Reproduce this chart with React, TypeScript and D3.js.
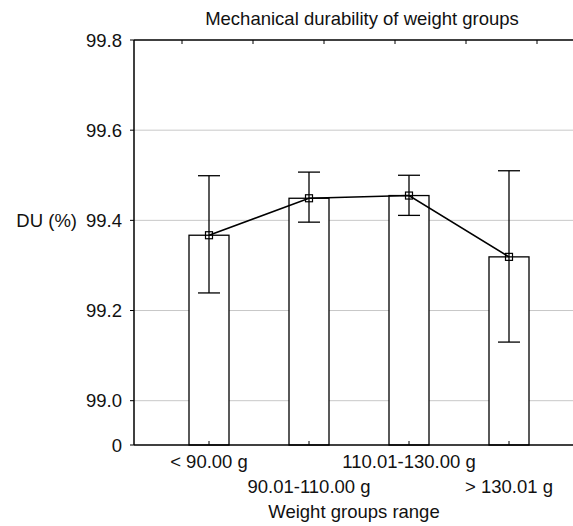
import React, { useEffect, useRef } from 'react'
import * as d3 from 'd3'

const categories = ['< 90.00 g', '90.01-110.00 g', '110.01-130.00 g', '> 130.01 g']
const means = [99.367, 99.449, 99.455, 99.319]
const errLow = [99.239, 99.396, 99.411, 99.13]
const errHigh = [99.499, 99.507, 99.5, 99.51]
const yTicks = [99.0, 99.2, 99.4, 99.6, 99.8]
const topTicks = [-0.27, 0.44, 1.15, 1.86, 2.57, 3.28]

const width = 573
const height = 526
const margin = { top: 40, left: 134, bottom: 445 }
const font = '"Liberation Sans", Arial, sans-serif'

export default function App() {
  const ref = useRef<SVGSVGElement>(null)

  useEffect(() => {
    const svg = d3.select(ref.current)
    svg.selectAll('*').remove()

    const x = d3.scaleLinear().domain([-0.75, 3.75]).range([margin.left, 584])
    const y = d3.scaleLinear().domain([99, 99.8]).range([400.7, margin.top])
    const base = margin.bottom
    const barW = (x(1) - x(0)) * 0.4

    // grid
    svg.append('g').selectAll('line')
      .data(yTicks.filter(d => d < 99.8))
      .join('line')
      .attr('x1', margin.left).attr('x2', width)
      .attr('y1', d => y(d)).attr('y2', d => y(d))
      .attr('stroke', '#c8c8c8').attr('stroke-width', 1)

    // bars
    svg.append('g').selectAll('rect')
      .data(means)
      .join('rect')
      .attr('x', (d, i) => x(i) - barW / 2)
      .attr('y', d => y(d))
      .attr('width', barW)
      .attr('height', d => base - y(d))
      .attr('fill', '#fff').attr('stroke', '#000').attr('stroke-width', 1.3)

    // whiskers
    const eb = svg.append('g').attr('stroke', '#000').attr('stroke-width', 1.3)
    means.forEach((m, i) => {
      const cx = x(i)
      eb.append('line').attr('x1', cx).attr('x2', cx).attr('y1', y(errHigh[i])).attr('y2', y(errLow[i]))
      eb.append('line').attr('x1', cx - 11).attr('x2', cx + 11).attr('y1', y(errHigh[i])).attr('y2', y(errHigh[i]))
      eb.append('line').attr('x1', cx - 11).attr('x2', cx + 11).attr('y1', y(errLow[i])).attr('y2', y(errLow[i]))
    })

    // mean line + markers
    const line = d3.line<number>().x((d, i) => x(i)).y(d => y(d))
    svg.append('path').attr('d', line(means)).attr('fill', 'none').attr('stroke', '#000').attr('stroke-width', 1.6)
    svg.append('g').selectAll('rect')
      .data(means)
      .join('rect')
      .attr('x', (d, i) => x(i) - 3.5).attr('y', d => y(d) - 3.5)
      .attr('width', 7).attr('height', 7)
      .attr('fill', 'none').attr('stroke', '#000').attr('stroke-width', 1.2)

    // axes frame
    const ax = svg.append('g').attr('stroke', '#000').attr('stroke-width', 1.5)
    ax.append('line').attr('x1', margin.left).attr('x2', margin.left).attr('y1', margin.top).attr('y2', base)
    ax.append('line').attr('x1', margin.left).attr('x2', width).attr('y1', base).attr('y2', base)
    ax.append('line').attr('x1', margin.left).attr('x2', width).attr('y1', margin.top).attr('y2', margin.top)

    const tk = svg.append('g').attr('stroke', '#000').attr('stroke-width', 1)
    categories.forEach((c, i) => {
      tk.append('line').attr('x1', x(i)).attr('x2', x(i)).attr('y1', base).attr('y2', base - 4)
    })
    topTicks.forEach(t => {
      tk.append('line').attr('x1', x(t)).attr('x2', x(t)).attr('y1', margin.top).attr('y2', margin.top + 4)
    })
    yTicks.concat([]).forEach(t => {
      tk.append('line').attr('x1', margin.left - 4).attr('x2', margin.left).attr('y1', y(t)).attr('y2', y(t))
    })
    tk.append('line').attr('x1', margin.left - 4).attr('x2', margin.left).attr('y1', base).attr('y2', base)

    // y labels
    const tl = svg.append('g').attr('font-family', font).attr('font-size', 18.5).attr('fill', '#111')
    tl.selectAll('text.yt')
      .data(yTicks)
      .join('text')
      .attr('class', 'yt')
      .attr('x', 122).attr('y', d => y(d)).attr('dy', '0.36em')
      .attr('text-anchor', 'end')
      .text(d => d3.format('.1f')(d))
    tl.append('text').attr('x', 122).attr('y', base).attr('dy', '0.36em').attr('text-anchor', 'end').text('0')
    tl.append('text').attr('x', 77).attr('y', y(99.4)).attr('dy', '0.36em').attr('text-anchor', 'end').text('DU (%)')

    // x labels, staggered
    tl.selectAll('text.xt')
      .data(categories)
      .join('text')
      .attr('class', 'xt')
      .attr('x', (d, i) => x(i)).attr('y', (d, i) => (i % 2 === 0 ? 468 : 493))
      .attr('text-anchor', 'middle')
      .text(d => d)
    tl.append('text').attr('x', 354).attr('y', 518).attr('text-anchor', 'middle').text('Weight groups range')

    tl.append('text').attr('x', 362).attr('y', 25).attr('text-anchor', 'middle').text('Mechanical durability of weight groups')
  }, [])

  return (
    <svg ref={ref} width={width} height={height} viewBox={`0 0 ${width} ${height}`}
      style={{ position: 'absolute', left: 0, top: 0, background: '#fff' }} />
  )
}
